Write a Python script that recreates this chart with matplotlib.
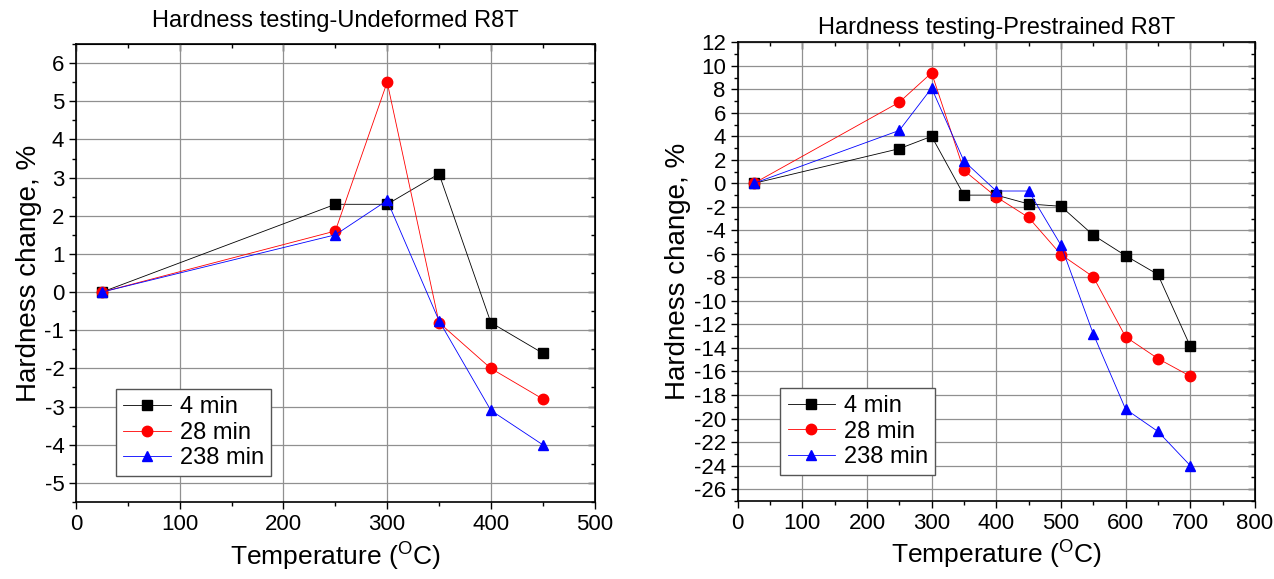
#!/usr/bin/env python3
import matplotlib
matplotlib.use('Agg')
import matplotlib.pyplot as plt
from matplotlib.ticker import MultipleLocator

plt.rcParams['font.family'] = ['Liberation Sans', 'DejaVu Sans']
plt.rcParams['mathtext.default'] = 'regular'
plt.rcParams['axes.unicode_minus'] = False

series_names = ['4 min', '28 min', '238 min']
series_colors = ['black', 'red', 'blue']
series_markers = ['s', 'o', '^']

# Undeformed R8T
temp_undeformed = [25, 250, 300, 350, 400, 450]
undeformed_4 = [0.0, 2.3, 2.3, 3.1, -0.8, -1.6]
undeformed_28 = [0.0, 1.6, 5.5, -0.8, -2.0, -2.8]
undeformed_238 = [0.0, 1.5, 2.4, -0.75, -3.1, -4.0]

# Prestrained R8T
temp_prestrained = [25, 250, 300, 350, 400, 450, 500, 550, 600, 650, 700]
prestrained_4 = [0.0, 2.95, 4.0, -1.0, -1.0, -1.75, -1.95, -4.4, -6.15, -7.75, -13.85]
prestrained_28 = [0.0, 6.9, 9.4, 1.1, -1.15, -2.9, -6.05, -7.95, -13.05, -14.9, -16.4]
prestrained_238 = [0.0, 4.5, 8.1, 1.9, -0.65, -0.65, -5.25, -12.8, -19.2, -21.1, -24.0]


def style_axes(ax, xmax, ymin, ymax, ymaj, ymin_step):
    ax.set_xlim(0, xmax)
    ax.set_ylim(ymin, ymax)
    ax.xaxis.set_major_locator(MultipleLocator(100))
    ax.xaxis.set_minor_locator(MultipleLocator(50))
    ax.yaxis.set_major_locator(MultipleLocator(ymaj))
    ax.yaxis.set_minor_locator(MultipleLocator(ymin_step))
    ax.tick_params(which='major', direction='out', length=5, width=1, labelsize=16)
    ax.tick_params(which='minor', direction='out', length=3, width=1)
    ax.grid(True, which='major', color='#909090', linewidth=0.9)
    for s in ax.spines.values():
        s.set_linewidth(1.2)
    # inward ticks on top and right, as in Origin
    top = ax.secondary_xaxis('top')
    top.xaxis.set_major_locator(MultipleLocator(100))
    top.xaxis.set_minor_locator(MultipleLocator(50))
    top.tick_params(which='major', direction='in', length=5, width=1, labeltop=False)
    top.tick_params(which='minor', direction='in', length=3, width=1)
    right = ax.secondary_yaxis('right')
    right.yaxis.set_major_locator(MultipleLocator(ymaj))
    right.yaxis.set_minor_locator(MultipleLocator(ymin_step))
    right.tick_params(which='major', direction='in', length=5, width=1, labelright=False)
    right.tick_params(which='minor', direction='in', length=3, width=1)
    ax.set_xlabel(r'Temperature ($^{O}$C)', fontsize=19, labelpad=4)
    ax.set_ylabel('Hardness change, %', fontsize=20, labelpad=2)


fig = plt.figure(figsize=(12.74, 5.79), dpi=100)
ax1 = fig.add_axes([0.0597, 0.133, 0.407, 0.791])
ax2 = fig.add_axes([0.579, 0.135, 0.406, 0.792])

for ax, temps, data in [
    (ax1, temp_undeformed, [undeformed_4, undeformed_28, undeformed_238]),
    (ax2, temp_prestrained, [prestrained_4, prestrained_28, prestrained_238]),
]:
    for name, color, marker, ys in zip(series_names, series_colors, series_markers, data):
        ax.plot(temps, ys, color=color, marker=marker, markersize=7.5, linewidth=0.6,
                label=name, zorder=3)

style_axes(ax1, 500, -5.5, 6.5, 1, 0.5)
style_axes(ax2, 800, -27, 12, 2, 1)

ax1.set_title('Hardness testing-Undeformed R8T', fontsize=17, pad=12)
ax2.set_title('Hardness testing-Prestrained R8T', fontsize=17, pad=6)

for ax, anchor in [(ax1, (0.055, 0.03)), (ax2, (0.06, 0.03))]:
    leg = ax.legend(loc='lower left', bbox_to_anchor=anchor, fontsize=17, frameon=True,
                    fancybox=False, edgecolor='#555555', framealpha=1,
                    handlelength=2.0, handletextpad=0.4, borderpad=0.3, labelspacing=0.15)
    leg.get_frame().set_linewidth(1.0)

plt.savefig('out.png', dpi=100)
